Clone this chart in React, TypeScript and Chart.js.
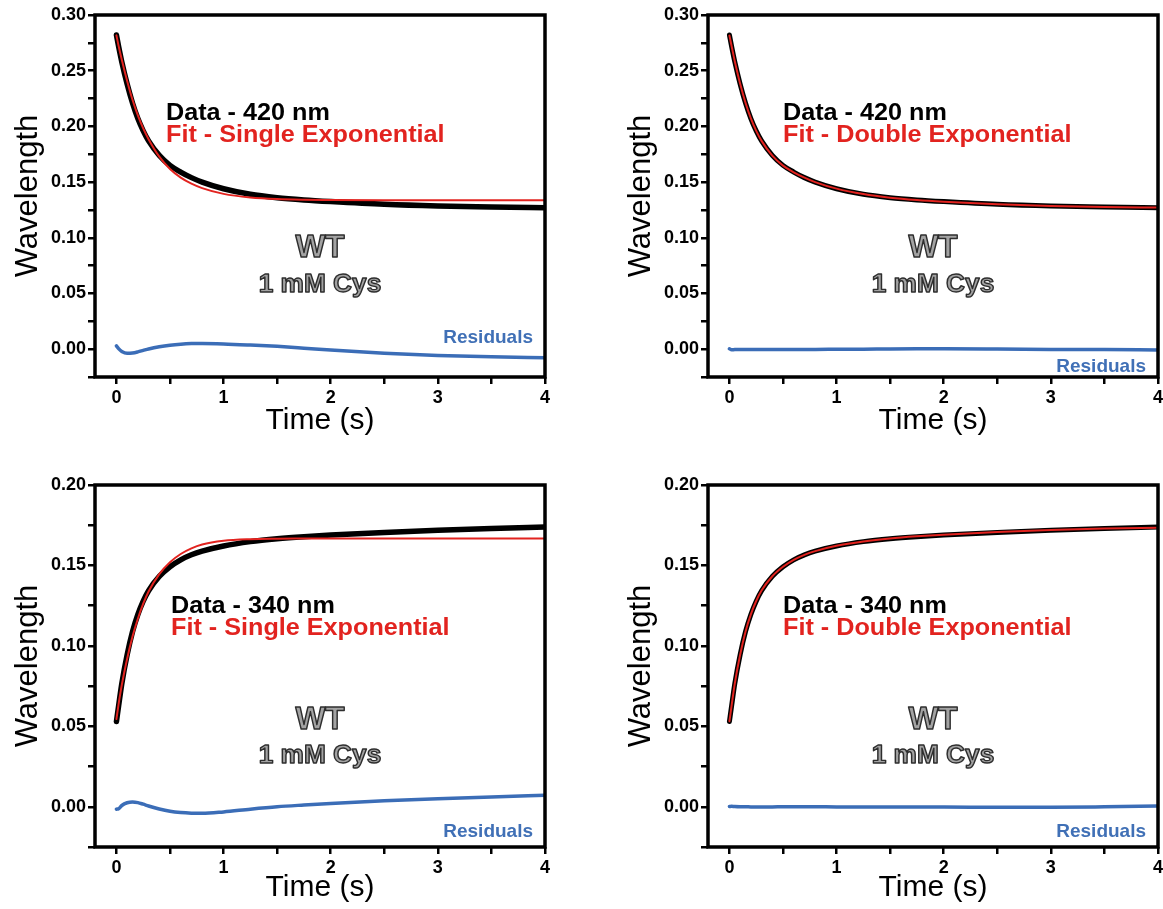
import React, { useEffect, useRef } from "react";
import { Chart, registerables } from "chart.js";

Chart.register(...registerables);

const FONT = '"Liberation Sans", Arial, Helvetica, sans-serif';

// Time points (s)
const TIME = [0, 0.02, 0.05, 0.1, 0.15, 0.2, 0.25, 0.3, 0.4, 0.5, 0.6, 0.7, 0.8, 1.0, 1.25, 1.5, 1.75, 2.0, 2.5, 3.0, 3.5, 4.0];

// 420 nm
const DATA_420 = [0.282, 0.272, 0.258, 0.238, 0.221, 0.207, 0.196, 0.187, 0.174, 0.165, 0.159, 0.154, 0.150, 0.144, 0.139, 0.136, 0.134, 0.1325, 0.130, 0.1285, 0.1277, 0.127];
const FIT_420_SINGLE = [0.2817, 0.2724, 0.2598, 0.2408, 0.2239, 0.2098, 0.1982, 0.1885, 0.1728, 0.1617, 0.1540, 0.1486, 0.1446, 0.1394, 0.1362, 0.1347, 0.1341, 0.1339, 0.1337, 0.1337, 0.1337, 0.1337];
const RESID_420_SINGLE = [0.003, 0.0005, -0.002, -0.0037, -0.0034, -0.0024, -0.0011, 0.0002, 0.0022, 0.0036, 0.0045, 0.005, 0.0051, 0.0047, 0.0037, 0.0025, 0.0009, -0.0008, -0.0036, -0.0056, -0.0069, -0.0078];
const FIT_420_DOUBLE = [0.2815, 0.2722, 0.2585, 0.2382, 0.2212, 0.2072, 0.196, 0.187, 0.1738, 0.1648, 0.1588, 0.154, 0.150, 0.1441, 0.1392, 0.136, 0.1339, 0.1324, 0.1301, 0.1286, 0.1277, 0.1271];
const RESID_420_DOUBLE = [0.0004, -0.0006, -0.0004, -0.0003, -0.0004, -0.0004, -0.0004, -0.0004, -0.0003, -0.0003, -0.0003, -0.0002, -0.0002, -0.0001, 0.0, 0.0002, 0.0003, 0.0003, 0.0001, -0.0002, -0.0004, -0.0008];

// 340 nm
const DATA_340 = [0.053, 0.0625, 0.0765, 0.0945, 0.1088, 0.1195, 0.1278, 0.1343, 0.1432, 0.1492, 0.1535, 0.1566, 0.1589, 0.1621, 0.1648, 0.1666, 0.1679, 0.1689, 0.1705, 0.1718, 0.1729, 0.1739];
const FIT_340_SINGLE = [0.0545, 0.0637, 0.0757, 0.092, 0.1058, 0.1169, 0.1262, 0.1338, 0.1446, 0.152, 0.1571, 0.1606, 0.163, 0.1653, 0.1663, 0.1666, 0.1667, 0.1668, 0.1668, 0.1668, 0.1668, 0.1668];
const RESID_340_SINGLE = [-0.0015, -0.0012, 0.0008, 0.0025, 0.003, 0.0026, 0.0016, 0.0005, -0.0014, -0.0028, -0.0036, -0.004, -0.0041, -0.0032, -0.0015, 0.0, 0.0011, 0.0021, 0.0037, 0.005, 0.0061, 0.0071];
const FIT_340_DOUBLE = [0.0532, 0.0627, 0.0766, 0.0945, 0.1088, 0.1196, 0.1279, 0.1344, 0.1433, 0.1492, 0.1535, 0.1566, 0.1589, 0.1622, 0.1649, 0.1668, 0.1681, 0.1691, 0.1708, 0.1721, 0.1729, 0.1734];
const RESID_340_DOUBLE = [0.0002, 0.0003, 0.0001, 0.0, 0.0, -0.0001, -0.0001, -0.0001, -0.0001, 0.0, 0.0, 0.0, 0.0, -0.0001, -0.0001, -0.0002, -0.0002, -0.0002, -0.0003, -0.0003, 0.0, 0.0005];

const X_LABELS = ["0", "1", "2", "3", "4"];

const RED = "#e2231f";
const BLUE = "#3b6db7";

type Spec = {
  left: number;
  top: number;
  yMax: number;
  data: number[];
  fit: number[];
  resid: number[];
  dataLabel: string;
  fitLabel: string;
  double: boolean;
  textDx: number;
  textDy: number;
  wtDy: number;
  cysDy: number;
  resDy: number;
  titlePad: number;
};

const PANELS: Spec[] = [
  { left: 0, top: 0, yMax: 0.3, data: DATA_420, fit: FIT_420_SINGLE, resid: RESID_420_SINGLE, dataLabel: "Data - 420 nm", fitLabel: "Fit - Single Exponential", double: false, textDx: 71, textDy: 105, wtDy: 242, cysDy: 277, resDy: 328, titlePad: 11 },
  { left: 613, top: 0, yMax: 0.3, data: DATA_420, fit: FIT_420_DOUBLE, resid: RESID_420_DOUBLE, dataLabel: "Data - 420 nm", fitLabel: "Fit - Double Exponential", double: true, textDx: 75, textDy: 105, wtDy: 242, cysDy: 277, resDy: 357, titlePad: 11 },
  { left: 0, top: 470, yMax: 0.2, data: DATA_340, fit: FIT_340_SINGLE, resid: RESID_340_SINGLE, dataLabel: "Data - 340 nm", fitLabel: "Fit - Single Exponential", double: false, textDx: 76, textDy: 128, wtDy: 244, cysDy: 278, resDy: 352, titlePad: 14 },
  { left: 613, top: 470, yMax: 0.2, data: DATA_340, fit: FIT_340_DOUBLE, resid: RESID_340_DOUBLE, dataLabel: "Data - 340 nm", fitLabel: "Fit - Double Exponential", double: true, textDx: 75, textDy: 128, wtDy: 244, cysDy: 278, resDy: 352, titlePad: 14 },
];

function Panel({ spec }: { spec: Spec }) {
  const ref = useRef<HTMLCanvasElement | null>(null);

  useEffect(() => {
    const canvas = ref.current;
    if (!canvas) return;
    const xy = (vals: number[]) => TIME.map((t, i) => ({ x: t, y: vals[i] }));

    const put = (
      ctx: CanvasRenderingContext2D,
      text: string,
      x: number,
      y: number,
      align: CanvasTextAlign,
      font: string,
      fill: string,
      stretch: number,
      stroke?: string
    ) => {
      ctx.save();
      ctx.translate(x, y);
      ctx.scale(stretch, 1);
      ctx.font = font;
      ctx.textAlign = align;
      ctx.textBaseline = "alphabetic";
      ctx.fillStyle = fill;
      ctx.fillText(text, 0, 0);
      if (stroke) {
        ctx.strokeStyle = stroke;
        ctx.lineWidth = 1.4;
        ctx.lineJoin = "round";
        ctx.strokeText(text, 0, 0);
      }
      ctx.restore();
    };

    const textPlugin = {
      id: "panelText",
      afterDraw(chart: any) {
        const ctx: CanvasRenderingContext2D = chart.ctx;
        const a = chart.chartArea;
        ctx.save();
        ctx.strokeStyle = "#000";
        ctx.lineWidth = 3.5;
        ctx.strokeRect(a.left, a.top, a.right - a.left, a.bottom - a.top);
        const cx = (a.left + a.right) / 2;
        put(ctx, spec.dataLabel, a.left + spec.textDx, a.top + spec.textDy, "left", `bold 24px ${FONT}`, "#000", 1.05);
        put(ctx, spec.fitLabel, a.left + spec.textDx, a.top + spec.textDy + 22, "left", `bold 24px ${FONT}`, RED, 1.05);
        put(ctx, "WT", cx, a.top + spec.wtDy, "center", `bold 31px ${FONT}`, "#a3a3a3", 1.02, "#2e2e2e");
        put(ctx, "1 mM Cys", cx, a.top + spec.cysDy, "center", `bold 25px ${FONT}`, "#a3a3a3", 1.05, "#2e2e2e");
        put(ctx, "Residuals", a.left + 438, a.top + spec.resDy, "right", `bold 19px ${FONT}`, "#4070b6", 1.0);
        ctx.restore();
      },
    };

    const chart = new Chart(canvas, {
      type: "line",
      data: {
        datasets: [
          {
            label: "Fit",
            data: xy(spec.fit),
            borderColor: RED,
            borderWidth: 2,
            pointRadius: 0,
            cubicInterpolationMode: "monotone",
            borderCapStyle: "round",
            fill: false,
            order: 0,
          },
          {
            label: "Data",
            data: xy(spec.data),
            borderColor: "#000",
            borderWidth: spec.double ? 5 : 5.5,
            pointRadius: 0,
            cubicInterpolationMode: "monotone",
            borderCapStyle: "round",
            fill: false,
            order: 1,
          },
          {
            label: "Residuals",
            data: xy(spec.resid),
            borderColor: BLUE,
            borderWidth: 3.5,
            pointRadius: 0,
            cubicInterpolationMode: "monotone",
            borderCapStyle: "round",
            fill: false,
            order: 2,
          },
        ],
      } as any,
      options: {
        responsive: false,
        devicePixelRatio: 1,
        animation: false,
        events: [],
        layout: { padding: { left: 0, right: 36, top: 15, bottom: 0 } },
        plugins: { legend: { display: false }, tooltip: { enabled: false } },
        scales: {
          x: {
            type: "linear",
            min: -0.2,
            max: 4,
            afterFit: (s: any) => {
              s.height = 73;
            },
            border: { display: false },
            grid: { drawOnChartArea: false, drawTicks: true, tickLength: 7, lineWidth: 2.5, color: "#000" },
            ticks: {
              stepSize: 0.5,
              includeBounds: false,
              autoSkip: false,
              maxRotation: 0,
              maxTicksLimit: 1000,
              padding: 3,
              color: "#000",
              font: { family: FONT, size: 18, weight: "bold" },
              callback: (v: any) => {
                const n = Number(v);
                return Number.isInteger(n) ? X_LABELS[n] : "";
              },
            },
            title: {
              display: true,
              text: "Time (s)",
              color: "#000",
              font: { family: FONT, size: 30 },
              padding: { top: 0, bottom: spec.titlePad },
            },
          },
          y: {
            type: "linear",
            min: -0.025,
            max: spec.yMax,
            afterFit: (s: any) => {
              s.width = 95;
            },
            border: { display: false },
            grid: { drawOnChartArea: false, drawTicks: true, tickLength: 7, lineWidth: 2.5, color: "#000" },
            ticks: {
              stepSize: 0.025,
              autoSkip: false,
              maxTicksLimit: 1000,
              padding: 2,
              color: "#000",
              font: { family: FONT, size: 18, weight: "bold" },
              callback: (v: any) => {
                const n = Number(v);
                const k = Math.round(n / 0.05);
                return Math.abs(n - k * 0.05) < 1e-9 ? n.toFixed(2) : "";
              },
            },
            title: {
              display: true,
              text: "Wavelength",
              color: "#000",
              font: { family: FONT, size: 31 },
              padding: { top: 10, bottom: 0 },
            },
          },
        },
      } as any,
      plugins: [textPlugin],
    });

    return () => chart.destroy();
  }, [spec]);

  return (
    <canvas
      ref={ref}
      width={581}
      height={450}
      style={{ position: "absolute", left: spec.left, top: spec.top, width: 581, height: 450 }}
    />
  );
}

export default function App() {
  return (
    <div
      style={{
        position: "absolute",
        left: 0,
        top: 0,
        width: 1163,
        height: 909,
        overflow: "hidden",
        background: "#fff",
      }}
    >
      {PANELS.map((p, i) => (
        <Panel key={i} spec={p} />
      ))}
    </div>
  );
}
